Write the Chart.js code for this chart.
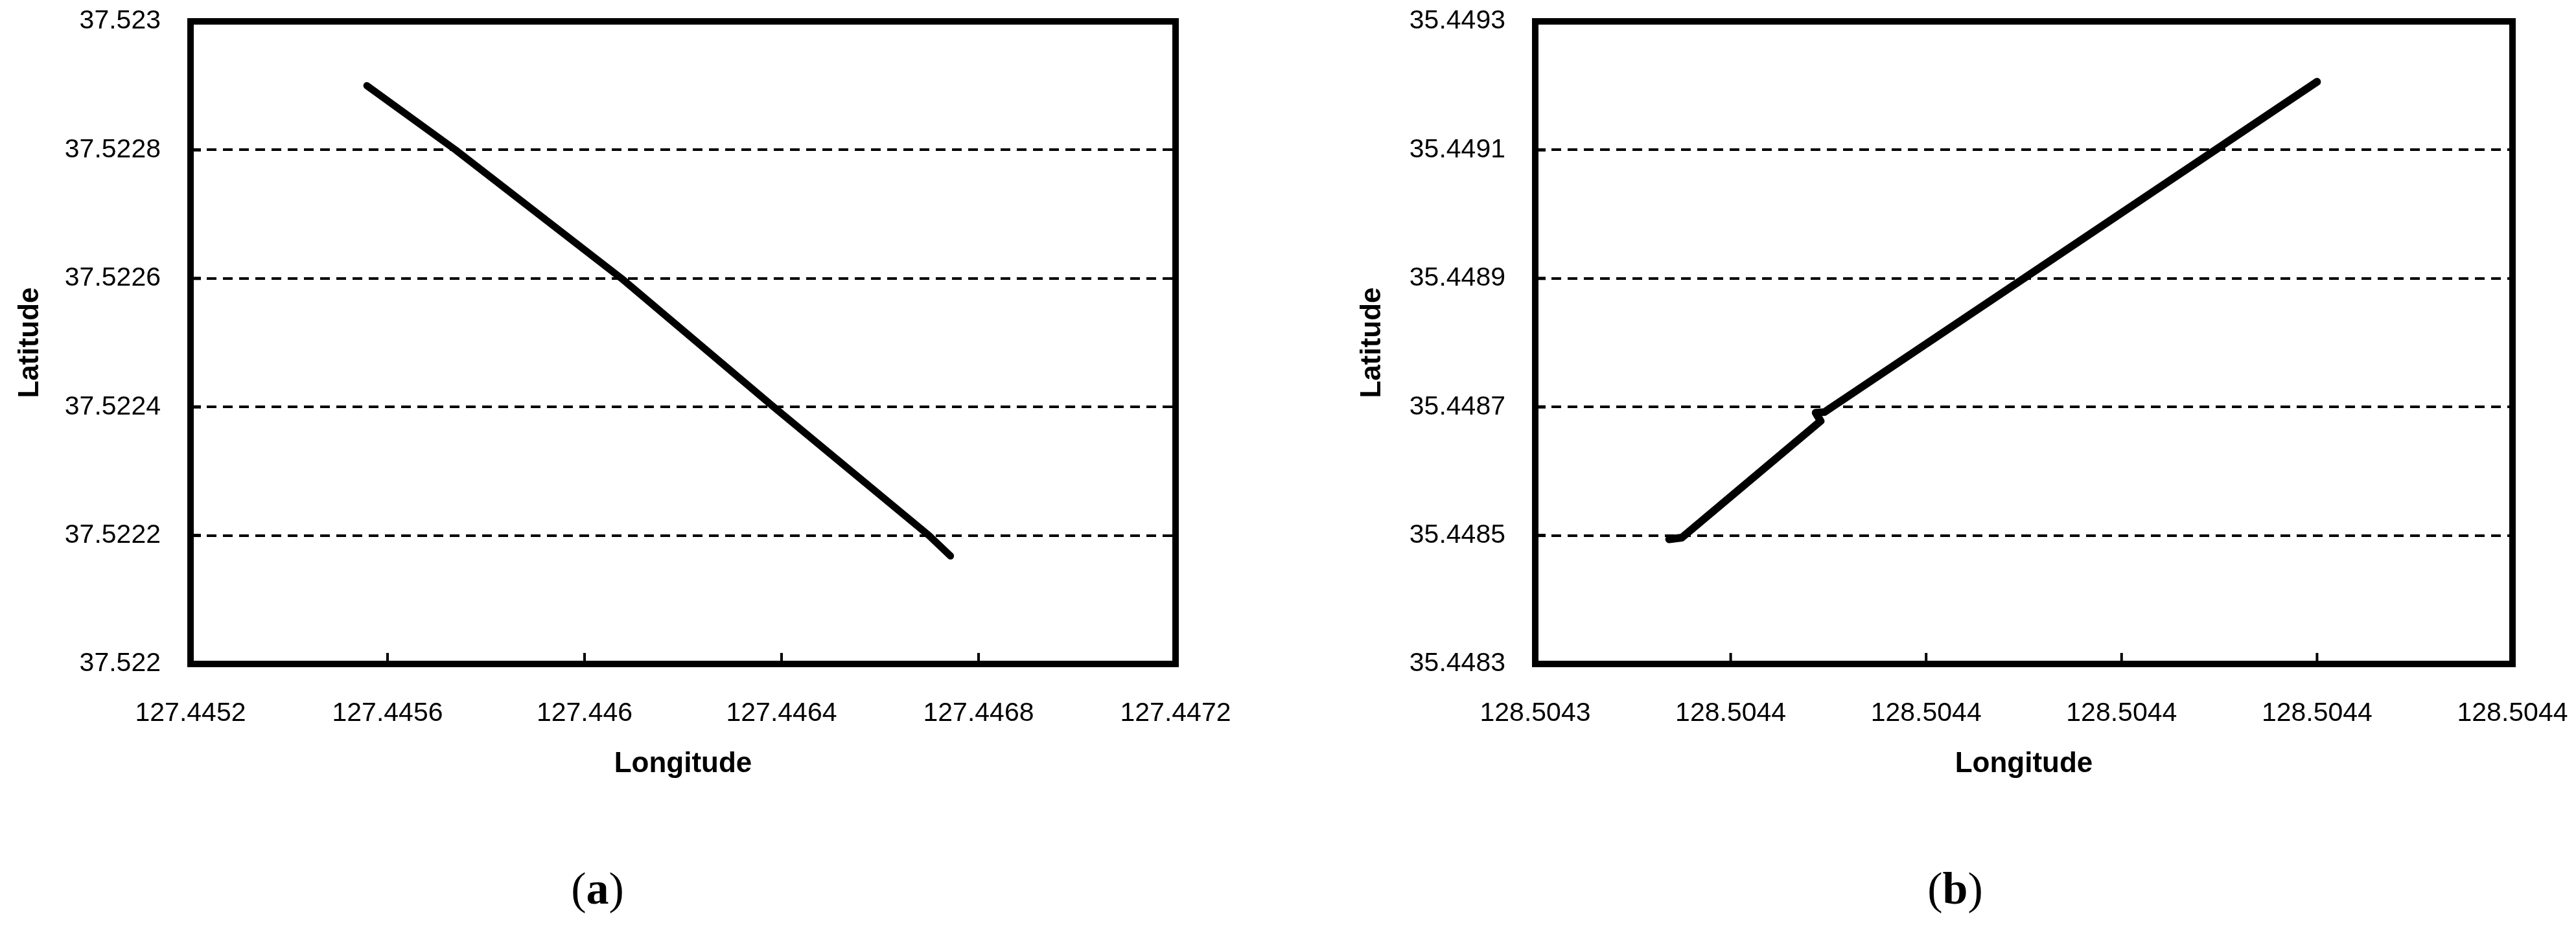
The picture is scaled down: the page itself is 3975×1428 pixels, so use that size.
<!DOCTYPE html>
<html>
<head>
<meta charset="utf-8">
<title>Latitude / Longitude</title>
<script src="https://cdn.jsdelivr.net/npm/chart.js@4.4.1/dist/chart.umd.min.js"></script>
<style>
    html, body { margin: 0; padding: 0; background: #fff; }
    body { width: 3975px; height: 1428px; position: relative; overflow: hidden; }
    canvas { position: absolute; top: 0; }
    #chartA { left: 0; }
    #chartB { left: 2071px; }
    .caption {
        position: absolute;
        top: 1332px;
        font-family: "Liberation Serif", "DejaVu Serif", serif;
        font-size: 70px;
        line-height: 80px;
        transform: translateX(-50%);
        color: #000;
    }
</style>
</head>
<body>
<canvas id="chartA" width="1950" height="1250"></canvas>
<canvas id="chartB" width="1904" height="1250"></canvas>
<div class="caption" style="left:922px">(<b>a</b>)</div>
<div class="caption" style="left:3017px">(<b>b</b>)</div>

<script>
// Trajet (a)
const lonA = [127.445558, 127.445738, 127.446075, 127.446384, 127.446699, 127.446743];
const latA = [37.5229, 37.5228, 37.5226, 37.5224, 37.5222, 37.522168];
const xTicksA = [127.4452, 127.4456, 127.4460, 127.4464, 127.4468, 127.4472];
const xTickLabelsA = ['127.4452', '127.4456', '127.446', '127.4464', '127.4468', '127.4472'];
const yTicksA = [37.5220, 37.5222, 37.5224, 37.5226, 37.5228, 37.5230];
const yTickLabelsA = ['37.522', '37.5222', '37.5224', '37.5226', '37.5228', '37.523'];

// Trajet (b)
const lonB = [128.5043537, 128.5043550, 128.5043692, 128.5043687, 128.5043696, 128.5044200];
const latB = [35.448494, 35.4484966, 35.448678, 35.448691, 35.448692, 35.449206];
const xTicksB = [128.50434, 128.50436, 128.50438, 128.50440, 128.50442, 128.50444];
const xTickLabelsB = ['128.5043', '128.5044', '128.5044', '128.5044', '128.5044', '128.5044'];
const yTicksB = [35.4483, 35.4485, 35.4487, 35.4489, 35.4491, 35.4493];
const yTickLabelsB = ['35.4483', '35.4485', '35.4487', '35.4489', '35.4491', '35.4493'];

const FONT = '"Liberation Sans", Arial, sans-serif';

/**
 * Petites graduations internes + cadre noir epais
 */
const framePlugin = {
    id: 'frame',
    beforeDatasetsDraw(chart) {
        const { ctx, chartArea: a, scales: { x, y } } = chart;
        ctx.save();
        ctx.strokeStyle = '#000';
        ctx.lineWidth = 4;
        x.ticks.forEach(t => {
            const px = x.getPixelForValue(t.value);
            ctx.beginPath();
            ctx.moveTo(px, a.bottom);
            ctx.lineTo(px, a.bottom - 17);
            ctx.stroke();
        });
        ctx.lineWidth = 5;
        y.ticks.forEach(t => {
            const py = y.getPixelForValue(t.value);
            ctx.beginPath();
            ctx.moveTo(a.left, py);
            ctx.lineTo(a.left + 16, py);
            ctx.stroke();
        });
        ctx.restore();
    },
    afterDatasetsDraw(chart) {
        const { ctx, chartArea: a } = chart;
        ctx.save();
        ctx.strokeStyle = '#000';
        ctx.lineWidth = 10;
        ctx.strokeRect(a.left, a.top, a.right - a.left, a.bottom - a.top);
        ctx.restore();
    }
};

/**
 * Construit un graphique latitude / longitude
 * (l'ecart des etiquettes passe par tickLength invisible, pas par ticks.padding,
 *  sinon Chart.js reserve cette marge autour de la zone de trace)
 */
function makeChart(canvasId, lon, lat, xTicks, xLabels, yTicks, yLabels, area, lineWidth) {
    const canvas = document.getElementById(canvasId);
    const points = lon.map((v, i) => ({ x: v, y: lat[i] }));

    return new Chart(canvas.getContext('2d'), {
        type: 'scatter',
        data: {
            datasets: [{
                data: points,
                showLine: true,
                borderColor: '#000',
                borderWidth: lineWidth,
                borderCapStyle: 'round',
                borderJoinStyle: 'round',
                pointRadius: 0,
                tension: 0
            }]
        },
        options: {
            responsive: false,
            animation: false,
            devicePixelRatio: 1,
            layout: {
                padding: { top: area.top, right: canvas.width - area.right, left: 0, bottom: 0 }
            },
            plugins: {
                legend: { display: false },
                tooltip: { enabled: false }
            },
            scales: {
                x: {
                    type: 'linear',
                    min: xTicks[0],
                    max: xTicks[xTicks.length - 1],
                    afterBuildTicks: s => { s.ticks = xTicks.map(v => ({ value: v })); },
                    afterFit: s => { s.height = canvas.height - area.bottom; },
                    grid: {
                        display: true,
                        drawOnChartArea: false,
                        drawTicks: true,
                        tickLength: 48,
                        color: 'rgba(0,0,0,0)',
                        tickColor: 'rgba(0,0,0,0)'
                    },
                    border: { display: false },
                    ticks: {
                        callback: (v, i) => xLabels[i],
                        autoSkip: false,
                        maxRotation: 0,
                        padding: 4,
                        color: '#000',
                        font: { family: FONT, size: 41 }
                    },
                    title: {
                        display: true,
                        text: 'Longitude',
                        color: '#000',
                        font: { family: FONT, size: 44, weight: 'bold' },
                        padding: { top: 0, bottom: 44 }
                    }
                },
                y: {
                    type: 'linear',
                    min: yTicks[0],
                    max: yTicks[yTicks.length - 1],
                    afterBuildTicks: s => { s.ticks = yTicks.map(v => ({ value: v })); },
                    afterFit: s => { s.width = area.left; },
                    grid: {
                        color: '#000',
                        lineWidth: 4,
                        drawTicks: true,
                        tickLength: 42,
                        tickColor: 'rgba(0,0,0,0)'
                    },
                    border: { display: false, dash: [15, 10] },
                    ticks: {
                        callback: (v, i) => yLabels[i],
                        autoSkip: false,
                        padding: 4,
                        color: '#000',
                        font: { family: FONT, size: 41 }
                    },
                    title: {
                        display: true,
                        text: 'Latitude',
                        color: '#000',
                        font: { family: FONT, size: 44, weight: 'bold' },
                        padding: { top: 20, bottom: 0 }
                    }
                }
            }
        },
        plugins: [framePlugin]
    });
}

document.addEventListener('DOMContentLoaded', function() {
    makeChart('chartA', lonA, latA, xTicksA, xTickLabelsA, yTicksA, yTickLabelsA,
        { left: 294, right: 1814, top: 33, bottom: 1025 }, 11);
    makeChart('chartB', lonB, latB, xTicksB, xTickLabelsB, yTicksB, yTickLabelsB,
        { left: 298, right: 1806, top: 33, bottom: 1025 }, 12);
});
</script>
</body>
</html>
